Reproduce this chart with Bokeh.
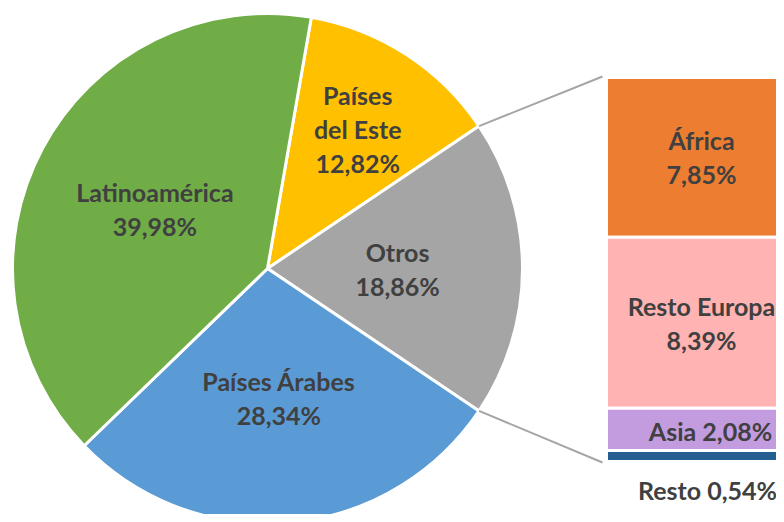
import math
from bokeh.plotting import figure
from bokeh.models import Range1d
from bokeh.embed import file_html
from bokeh.resources import INLINE
from bokeh.core.properties import value

# ---- data ----
pie_names = ["Países del Este", "Otros", "Países Árabes", "Latinoamérica"]
pie_values = [12.82, 18.86, 28.34, 39.98]
pie_colors = ["#FFC000", "#A5A5A5", "#5B9BD5", "#70AD47"]
pie_label_lines = [["Países", "del Este"], ["Otros"], ["Países Árabes"], ["Latinoamérica"]]

bar_names = ["África", "Resto Europa", "Asia", "Resto"]
bar_values = [7.85, 8.39, 2.08, 0.54]
bar_colors = ["#ED7D31", "#FFB3B3", "#C39BDF", "#255E91"]


def pct(v):
    return f"{v:.2f}".replace(".", ",") + "%"


# ---- layout ----
W, H = 784, 522
PW, PH = W - 8, H - 8
p = figure(width=PW, height=PH, output_backend="svg", toolbar_location=None,
           x_range=Range1d(0, PW), y_range=Range1d(H - PH, H), min_border=0)
p.axis.visible = False
p.grid.visible = False
p.outline_line_color = None
p.background_fill_color = "white"

FONT = value("Lato")
FS = "25px"
TC = "#404040"
LINE = 34

cx, cy, R = 267, 254, 255
total = sum(pie_values)
fr = [v / total for v in pie_values]
otros_i = pie_names.index("Otros")

start = fr[otros_i] * math.pi + fr[0] * 2 * math.pi
starts, ends, mids = [], [], []
for f in fr:
    lo = start - f * 2 * math.pi
    starts.append(lo)
    ends.append(start)
    mids.append((lo + start) / 2)
    start = lo

p.wedge(x=[cx] * len(fr), y=[cy] * len(fr), radius=R, start_angle=starts, end_angle=ends,
        fill_color=pie_colors, line_color="white", line_width=3)

label_r = [0.65, 0.51, 0.51, 0.50]


def draw_lines(x, yc, lines, align="center"):
    n = len(lines)
    ys = [yc + (n - 1) / 2 * LINE - k * LINE for k in range(n)]
    p.text(x=[x] * n, y=ys, text=lines, text_font=FONT, text_font_size=FS,
           text_font_style="bold", text_color=TC, text_align=align, text_baseline="middle")


for i, name in enumerate(pie_names):
    lx = cx + label_r[i] * R * math.cos(mids[i])
    ly = cy + label_r[i] * R * math.sin(mids[i])
    draw_lines(lx, ly, pie_label_lines[i] + [pct(pie_values[i])])

# ---- bar of pie ----
bl, br = 606, 796
btop, bbot = H - 77, H - 461
scale = (btop - bbot) / sum(bar_values)
tops, bots = [], []
cur = btop
for v in bar_values:
    tops.append(cur)
    cur -= v * scale
    bots.append(cur)
p.quad(left=[bl] * len(bar_values), right=[br] * len(bar_values), top=tops, bottom=bots,
       fill_color=bar_colors, line_color="white", line_width=3)

bx = (bl + br) / 2
draw_lines(bx, (tops[0] + bots[0]) / 2, [bar_names[0], pct(bar_values[0])])
draw_lines(bx, (tops[1] + bots[1]) / 2, [bar_names[1], pct(bar_values[1])])
draw_lines(bx + 9, (tops[2] + bots[2]) / 2 - 2, [f"{bar_names[2]} {pct(bar_values[2])}"])
draw_lines(bx + 6, bots[3] - 28, [f"{bar_names[3]} {pct(bar_values[3])}"])

# connectors
a = fr[otros_i] * math.pi
p.segment(x0=[cx + R * math.cos(a), cx + R * math.cos(-a)],
          y0=[cy + R * math.sin(a), cy + R * math.sin(-a)],
          x1=[bl - 4, bl - 4], y1=[btop + 1, bbot - 1],
          line_color="#A5A5A5", line_width=2)

open("out.html", "w").write(file_html(p, INLINE))
